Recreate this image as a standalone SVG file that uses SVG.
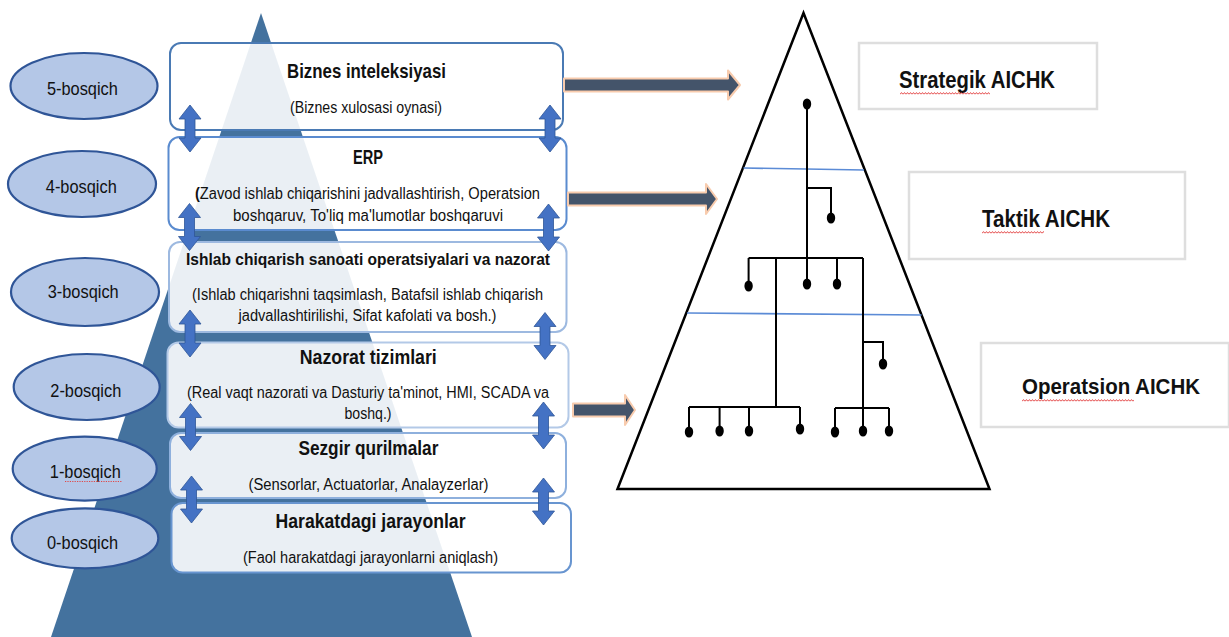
<svg xmlns="http://www.w3.org/2000/svg" xmlns:xlink="http://www.w3.org/1999/xlink" width="1229" height="637" viewBox="0 0 1229 637">
<defs>
<style>
.pyr{fill:#44729e}
.box{fill:#fff;fill-opacity:.89;stroke-width:2}
.ell{fill:#b4c7e7;stroke:#2f5597;stroke-width:2.2}
.t{font-family:"Liberation Sans",Arial,sans-serif;text-anchor:middle;fill:#111}
.ti{font-size:21px;font-weight:bold}
.sub{font-size:16px}
.lab{font-size:19px}
.rl{font-size:24px;font-weight:bold}
.dbl{fill:#4472c4;stroke:#2f5597;stroke-width:.8}
.darr{fill:#44546a;stroke:#f8cbad;stroke-width:2;stroke-linejoin:round}
.tree{stroke:#000;stroke-width:2;fill:none}
.dot{fill:#000}
.lvl{stroke:#5b8bd6;stroke-width:1.6}
.rbox{fill:#fff;stroke:#dedede;stroke-width:2.5}
.sq{fill:url(#sq)}
</style>
<pattern id="sq" width="3" height="3" patternUnits="userSpaceOnUse">
<path d="M0,2.4 L1.5,0.6 L3,2.4" fill="none" stroke="#e03030" stroke-width="0.9"/>
</pattern>
<path id="dbl" class="dbl" d="M0,0 L11,14 L5,14 L5,33 L11,33 L0,47 L-11,33 L-5,33 L-5,14 L-11,14 Z"/>
</defs>

<rect width="1229" height="637" fill="#fff"/>

<!-- left pyramid -->
<polygon class="pyr" points="261,13 51,637 472,637"/>

<!-- level boxes -->
<g id="box5"><rect class="box" x="170" y="43" width="393" height="87" rx="11" stroke="#4a7ab4"/>
<text class="t ti" x="366.5" y="78" textLength="159" lengthAdjust="spacingAndGlyphs">Biznes inteleksiyasi</text>
<text class="t sub" x="366" y="113" textLength="152" lengthAdjust="spacingAndGlyphs">(Biznes xulosasi oynasi)</text></g>

<g id="box4"><rect class="box" x="168.5" y="137" width="398" height="93" rx="11" stroke="#5a8bcf"/>
<text class="t ti" x="368" y="163.5" textLength="30" lengthAdjust="spacingAndGlyphs">ERP</text>
<text class="t sub" x="367.5" y="198.5" textLength="345" lengthAdjust="spacingAndGlyphs"><tspan font-weight="bold">(</tspan>Zavod ishlab chiqarishini jadvallashtirish, Operatsion</text>
<text class="t sub" x="368" y="220.5" textLength="270" lengthAdjust="spacingAndGlyphs">boshqaruv, To'liq ma'lumotlar boshqaruvi</text></g>

<g id="box3"><rect class="box" x="169" y="242" width="397.5" height="90" rx="11" stroke="#9db9e0"/>
<text class="t ti" x="368" y="265" style="font-size:17px" textLength="364" lengthAdjust="spacingAndGlyphs">Ishlab chiqarish sanoati operatsiyalari va nazorat</text>
<text class="t sub" x="367.5" y="300" textLength="351" lengthAdjust="spacingAndGlyphs">(Ishlab chiqarishni taqsimlash, Batafsil ishlab chiqarish</text>
<text class="t sub" x="367.5" y="321" textLength="258" lengthAdjust="spacingAndGlyphs">jadvallashtirilishi, Sifat kafolati va bosh.)</text></g>

<g id="box2"><rect class="box" x="167.5" y="342.5" width="401" height="85" rx="11" stroke="#b3c9e7"/>
<text class="t ti" x="368.3" y="364" textLength="137" lengthAdjust="spacingAndGlyphs">Nazorat tizimlari</text>
<text class="t sub" x="368" y="398" textLength="362" lengthAdjust="spacingAndGlyphs">(Real vaqt nazorati va Dasturiy ta'minot, HMI, SCADA va</text>
<text class="t sub" x="368" y="418.5" textLength="47" lengthAdjust="spacingAndGlyphs">boshq.)</text></g>

<g id="box1"><rect class="box" x="170" y="433" width="396" height="65" rx="11" stroke="#8eb0dd"/>
<text class="t ti" x="368.4" y="455" textLength="140" lengthAdjust="spacingAndGlyphs">Sezgir qurilmalar</text>
<text class="t sub" x="368.5" y="490" textLength="240" lengthAdjust="spacingAndGlyphs">(Sensorlar, Actuatorlar, Analayzerlar)</text></g>

<g id="box0"><rect class="box" x="171.5" y="503" width="399.5" height="69.5" rx="11" stroke="#6895d0"/>
<text class="t ti" x="370.5" y="528.3" style="font-size:19.5px" textLength="190" lengthAdjust="spacingAndGlyphs">Harakatdagi jarayonlar</text>
<text class="t sub" x="370.5" y="563.3" textLength="255" lengthAdjust="spacingAndGlyphs">(Faol harakatdagi jarayonlarni aniqlash)</text></g>

<!-- level ellipses -->
<g id="lvl5"><ellipse class="ell" cx="84" cy="86" rx="73.5" ry="33"/>
<text class="t lab" x="82.4" y="95" textLength="71" lengthAdjust="spacingAndGlyphs">5-bosqich</text></g>
<g id="lvl4"><ellipse class="ell" cx="82" cy="184" rx="74" ry="33"/>
<text class="t lab" x="81.3" y="192.7" textLength="71" lengthAdjust="spacingAndGlyphs">4-bosqich</text></g>
<g id="lvl3"><ellipse class="ell" cx="85" cy="292" rx="74" ry="34"/>
<text class="t lab" x="83.2" y="297.7" textLength="71" lengthAdjust="spacingAndGlyphs">3-bosqich</text></g>
<g id="lvl2"><ellipse class="ell" cx="86.7" cy="387" rx="73" ry="33"/>
<text class="t lab" x="85.8" y="396.7" textLength="71" lengthAdjust="spacingAndGlyphs">2-bosqich</text></g>
<g id="lvl1"><ellipse class="ell" cx="84.7" cy="468.7" rx="72" ry="32"/>
<text class="t lab" x="85.3" y="477.7" textLength="71" lengthAdjust="spacingAndGlyphs">1-bosqich</text>
<line x1="65" y1="481.5" x2="121.5" y2="481.5" stroke="#e04848" stroke-width="1.2" stroke-dasharray="1.2 1.2"/></g>
<g id="lvl0"><ellipse class="ell" cx="85" cy="538.3" rx="73.3" ry="30"/>
<text class="t lab" x="82.5" y="549" textLength="71" lengthAdjust="spacingAndGlyphs">0-bosqich</text></g>

<!-- connectors -->
<g id="connectors">
<use xlink:href="#dbl" href="#dbl" transform="translate(190,105)"/>
<use xlink:href="#dbl" href="#dbl" transform="translate(550,105)"/>
<use xlink:href="#dbl" href="#dbl" transform="translate(189.5,203.5)"/>
<use xlink:href="#dbl" href="#dbl" transform="translate(548.5,204)"/>
<use xlink:href="#dbl" href="#dbl" transform="translate(190,310)"/>
<use xlink:href="#dbl" href="#dbl" transform="translate(545,312.5)"/>
<use xlink:href="#dbl" href="#dbl" transform="translate(190.5,403.5)"/>
<use xlink:href="#dbl" href="#dbl" transform="translate(543.5,402)"/>
<use xlink:href="#dbl" href="#dbl" transform="translate(191.5,476)"/>
<use xlink:href="#dbl" href="#dbl" transform="translate(543.5,478)"/>
<path class="darr" d="M564,78.5 H728 V70.5 L740,85 L728,99.5 V91.5 H564 Z"/>
<path class="darr" d="M568,192.5 H706 V184 L717,199 L706,214 V205.5 H568 Z"/>
<path class="darr" d="M573,403.5 H625 V395 L635,410 L625,425 V416.5 H573 Z"/>
</g>

<!-- right pyramid -->
<g id="hierarchy">
<polygon points="803.5,13 617.5,489 989.5,489" fill="#fff" stroke="#000" stroke-width="2.5" stroke-linejoin="miter"/>
<line class="lvl" x1="743.5" y1="168" x2="864" y2="170"/>
<line class="lvl" x1="687" y1="313" x2="921.5" y2="315"/>
<path class="tree" d="M807,104 V284 M807,188 H831 V217 M748.6,258 H863 M748.6,258 V286 M776,258 V407 M837,258 V284 M863,258 V431 M863,342 H883 V364 M689,407 H800 M689,407 V432 M719.6,407 V431 M749,407 V431 M800,407 V429 M835,408 H889 M835,408 V432 M889,408 V431"/>
<g class="dot">
<ellipse cx="807" cy="104" rx="4.2" ry="5.5"/>
<ellipse cx="831" cy="218" rx="4.2" ry="5.5"/>
<ellipse cx="748.6" cy="286" rx="4.2" ry="5.5"/>
<ellipse cx="807" cy="284" rx="4.2" ry="5.5"/>
<ellipse cx="837" cy="284" rx="4.2" ry="5.5"/>
<ellipse cx="883" cy="364" rx="4.2" ry="5.5"/>
<ellipse cx="689" cy="432" rx="4.2" ry="5.5"/>
<ellipse cx="719.6" cy="431" rx="4.2" ry="5.5"/>
<ellipse cx="749" cy="431" rx="4.2" ry="5.5"/>
<ellipse cx="800" cy="429" rx="4.2" ry="5.5"/>
<ellipse cx="835" cy="432" rx="4.2" ry="5.5"/>
<ellipse cx="863" cy="431" rx="4.2" ry="5.5"/>
<ellipse cx="889" cy="431" rx="4.2" ry="5.5"/>
</g>
</g>

<!-- right labels -->
<g id="strategik"><rect class="rbox" x="859" y="43" width="238" height="66"/>
<text class="t rl" x="977" y="88" textLength="156" lengthAdjust="spacingAndGlyphs">Strategik AICHK</text>
<rect class="sq" x="0" y="0" width="90" height="3" transform="translate(900,92)"/></g>
<g id="taktik"><rect class="rbox" x="909" y="172" width="276" height="87"/>
<text class="t rl" x="1046" y="227" textLength="128" lengthAdjust="spacingAndGlyphs">Taktik AICHK</text>
<rect class="sq" x="0" y="0" width="62" height="3" transform="translate(982,231)"/></g>
<g id="operatsion"><rect class="rbox" x="981" y="343" width="248" height="84"/>
<text class="t rl" x="1111" y="394" style="font-size:22px" textLength="178" lengthAdjust="spacingAndGlyphs">Operatsion AICHK</text>
<rect class="sq" x="0" y="0" width="112" height="3" transform="translate(1022,399)"/></g>
</svg>
